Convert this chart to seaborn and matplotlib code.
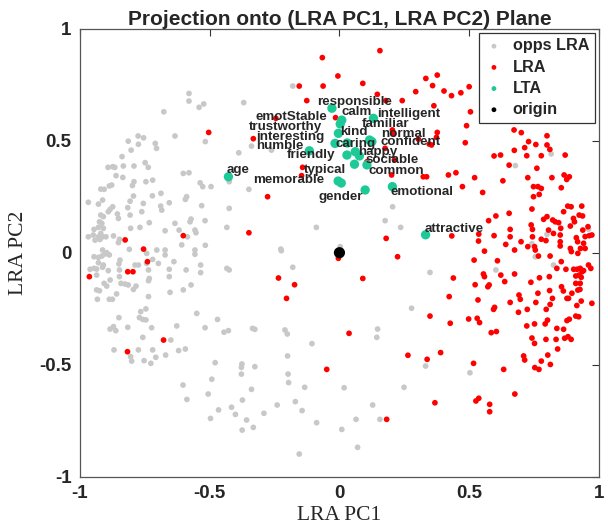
import numpy as np
import pandas as pd
import matplotlib
matplotlib.use("Agg")
import matplotlib.pyplot as plt
import seaborn as sns

# opposite-LRA points (grey)
opps_pts = [
    (-0.580, 0.711), (-0.580, 0.677), (-0.677, 0.629), (-0.541, 0.649), (-0.523, 0.664), (-0.369, 0.670),
    (-0.180, 0.744), (-0.634, 0.521), (-0.776, 0.521), (-0.755, 0.513), (-0.814, 0.498), (-0.775, 0.484),
    (-0.710, 0.488), (-0.705, 0.466), (-0.803, 0.458), (-0.517, 0.496), (-0.339, 0.476), (-0.262, 0.458),
    (-0.388, 0.446), (-0.838, 0.429), (-0.892, 0.381), (-0.874, 0.384), (-0.866, 0.381), (-0.833, 0.387),
    (-0.792, 0.387), (-0.749, 0.402), (-0.737, 0.381), (-0.861, 0.344), (-0.835, 0.336), (-0.602, 0.354),
    (-0.580, 0.357), (-0.537, 0.312), (-0.527, 0.295), (-0.495, 0.295), (-0.792, 0.317), (-0.798, 0.300),
    (-0.746, 0.317), (-0.720, 0.324), (-0.878, 0.302), (-0.887, 0.298), (-0.920, 0.284), (-0.907, 0.283),
    (-0.794, 0.253), (-0.721, 0.254), (-0.688, 0.265), (-0.807, 0.230), (-0.756, 0.220), (-0.656, 0.223),
    (-0.594, 0.238), (-0.589, 0.250), (-0.968, 0.225), (-0.929, 0.217), (-0.913, 0.235), (-0.874, 0.205),
    (-0.884, 0.193), (-0.816, 0.201), (-0.762, 0.183), (-0.689, 0.208), (-0.685, 0.190), (-0.531, 0.210),
    (-0.425, 0.198), (-0.920, 0.168), (-0.910, 0.161), (-0.891, 0.183), (-0.856, 0.173), (-0.852, 0.153),
    (-0.807, 0.168), (-0.733, 0.134), (-0.925, 0.138), (-0.916, 0.131), (-0.572, 0.150), (-0.576, 0.138),
    (-0.634, 0.131), (-0.518, 0.143), (-0.672, 0.098), (-0.618, 0.101), (-0.557, 0.101), (-0.553, 0.089),
    (-0.434, 0.113), (-0.805, 0.109), (-0.769, 0.113), (-0.946, 0.104), (-0.929, 0.113), (-0.910, 0.109),
    (-0.920, 0.086), (-0.968, 0.071), (-0.949, 0.079), (-0.929, 0.071), (-0.913, 0.071), (-0.942, 0.056),
    (-0.923, 0.059), (-0.900, 0.071), (-0.871, 0.075), (-0.848, 0.060), (-0.810, 0.015), (-0.852, 0.045),
    (-0.913, 0.012), (-0.897, 0.000), (-0.672, 0.012), (-0.704, 0.012), (-0.608, 0.035), (-0.557, 0.012),
    (-0.517, 0.033), (-0.743, -0.003), (-0.349, 0.283), (-0.425, 0.317), (-0.226, 0.016), (-0.089, 0.113),
    (0.003, 0.027), (0.205, 0.205), (0.176, 0.143), (0.236, 0.113), (-0.586, 0.071),
    (0.816, 0.441), (0.678, 0.389), (0.800, 0.082), (0.742, 0.040), (0.960, 0.105), (0.755, -0.018),
    (0.603, -0.077), (0.825, -0.055), (0.503, -0.536), (0.332, -0.506), (0.349, -0.088), (0.278, -0.248),
    (-0.946, -0.018), (-0.929, -0.021), (-0.916, -0.015), (-0.904, -0.006), (-0.887, -0.010), (-0.846, -0.033),
    (-0.850, -0.050), (-0.910, -0.055), (-0.913, -0.065), (-0.961, -0.074), (-0.946, -0.070), (-0.936, -0.073),
    (-0.929, -0.045), (-0.891, -0.080), (-0.848, -0.077), (-0.788, -0.055), (-0.775, -0.055), (-0.743, -0.048),
    (-0.720, -0.030), (-0.698, -0.048), (-0.672, -0.010), (-0.736, -0.077), (-0.656, -0.074), (-0.656, -0.107),
    (-0.638, -0.040), (-0.591, -0.077), (-0.557, -0.007), (-0.535, -0.055), (-0.535, -0.089), (-0.434, -0.070),
    (-0.425, -0.077), (-0.936, -0.100), (-0.907, -0.137), (-0.897, -0.149), (-0.884, -0.122), (-0.848, -0.107),
    (-0.842, -0.137), (-0.826, -0.140), (-0.814, -0.144), (-0.784, -0.149), (-0.794, -0.164), (-0.736, -0.125),
    (-0.733, -0.115), (-0.936, -0.166), (-0.925, -0.170), (-0.933, -0.208), (-0.887, -0.208), (-0.875, -0.208),
    (-0.859, -0.184), (-0.736, -0.196), (-0.653, -0.177), (-0.602, -0.166), (-0.572, -0.144), (-0.766, -0.263),
    (-0.746, -0.251), (-0.771, -0.290), (-0.758, -0.298), (-0.746, -0.300), (-0.850, -0.290), (-0.884, -0.341),
    (-0.871, -0.330), (-0.862, -0.348), (-0.816, -0.333), (-0.724, -0.335), (-0.627, -0.327), (-0.550, -0.271),
    (-0.470, -0.298), (-0.518, -0.335), (-0.445, -0.355), (-0.428, -0.348), (-0.758, -0.378), (-0.650, -0.390),
    (-0.869, -0.434), (-0.775, -0.434), (-0.720, -0.434), (-0.620, -0.437), (-0.594, -0.430), (-0.805, -0.464),
    (-0.801, -0.484), (-0.753, -0.482), (-0.708, -0.467), (-0.727, -0.494), (-0.670, -0.457), (-0.479, -0.491),
    (-0.224, 0.009), (-0.180, -0.065), (-0.210, -0.345), (-0.201, -0.363), (-0.200, -0.461), (-0.106, -0.406),
    (-0.376, -0.497), (-0.378, -0.512), (-0.326, -0.509), (-0.326, -0.342), (-0.335, -0.338), (-0.492, -0.565),
    (-0.603, -0.591), (-0.588, -0.655), (-0.506, -0.631), (-0.497, -0.740), (-0.466, -0.702), (-0.416, -0.690),
    (-0.401, -0.722), (-0.378, -0.542), (-0.374, -0.658), (-0.358, -0.747), (-0.375, -0.792), (-0.339, -0.610),
    (-0.332, -0.780), (-0.291, -0.717), (-0.240, -0.680), (-0.198, -0.542), (-0.196, -0.580), (-0.170, -0.665),
    (-0.144, -0.705), (-0.134, -0.601), (-0.155, -0.899), (-0.088, -0.759), (0.009, -0.789), (0.064, -0.744),
    (0.070, -0.869), (0.147, -0.341), (0.144, -0.378), (0.018, -0.603), (0.249, -0.601), (0.128, -0.680),
    (0.156, -0.744),
]

# LRA points (red)
lra_pts = [
    (-0.066, 0.871), (-0.006, 0.789), (-0.063, 0.744), (-0.155, 0.744), (-0.126, 0.679), (-0.015, 0.603),
    (-0.504, 0.537), (-0.332, 0.509), (-0.245, 0.600), (-0.142, 0.381), (-0.146, 0.344), (-0.277, 0.250),
    (-0.349, 0.089), (0.156, 0.902), (0.090, 0.756), (0.146, 0.707), (0.179, 0.679), (0.242, 0.679),
    (0.294, 0.719), (0.333, 0.778), (0.377, 0.793), (0.359, 0.746), (0.403, 0.722), (0.432, 0.701),
    (0.468, 0.714), (0.500, 0.741), (0.364, 0.656), (0.505, 0.629), (0.490, 0.567), (0.377, 0.537),
    (0.374, 0.515), (0.346, 0.485), (0.355, 0.481), (0.304, 0.507), (0.204, 0.548), (0.208, 0.530),
    (0.176, 0.466), (0.212, 0.414), (0.106, 0.406), (0.201, 0.347), (0.323, 0.339), (0.336, 0.339),
    (0.673, 0.548), (0.701, 0.536), (0.800, 0.522), (0.180, 0.064),
    (0.485, 0.491), (0.596, 0.432), (0.621, 0.436), (0.674, 0.457), (0.714, 0.469), (0.729, 0.496),
    (0.757, 0.483), (0.722, 0.433), (0.778, 0.433), (0.800, 0.481), (0.811, 0.461), (0.870, 0.436),
    (0.654, 0.391), (0.761, 0.377), (0.420, 0.347), (0.449, 0.357), (0.521, 0.335), (0.630, 0.321),
    (0.726, 0.335), (0.819, 0.335), (0.866, 0.347), (0.886, 0.339), (0.876, 0.327), (0.474, 0.295),
    (0.552, 0.269), (0.748, 0.295), (0.765, 0.295), (0.778, 0.287), (0.855, 0.290), (0.770, 0.260),
    (0.748, 0.250), (0.742, 0.195), (0.654, 0.176), (0.603, 0.164), (0.575, 0.143), (0.787, 0.149),
    (0.800, 0.161), (0.822, 0.146), (0.832, 0.138), (0.845, 0.134), (0.864, 0.183), (0.880, 0.208),
    (0.893, 0.205), (0.934, 0.208), (0.924, 0.168), (0.937, 0.164), (0.902, 0.153), (0.906, 0.138),
    (0.890, 0.119), (0.739, 0.124), (0.744, 0.104), (0.658, 0.104), (0.658, 0.071), (0.596, 0.076),
    (0.537, 0.083), (0.536, 0.052), (0.433, 0.075), (0.559, 0.007), (0.641, 0.037), (0.675, 0.012),
    (0.700, 0.049), (0.726, 0.027), (0.752, 0.027), (0.744, 0.071), (0.778, 0.060), (0.796, 0.054),
    (0.806, 0.101), (0.825, 0.086), (0.853, 0.109), (0.851, 0.079), (0.851, 0.049), (0.851, 0.030),
    (0.913, 0.067), (0.918, 0.049), (0.938, 0.101), (0.958, 0.116), (0.963, 0.076), (0.947, 0.072),
    (0.973, 0.079), (0.941, 0.042), (0.929, 0.019), (0.947, 0.019), (0.890, 0.019), (0.894, 0.005),
    (0.755, 0.012),
    (0.767, -0.015), (0.812, -0.015), (0.919, -0.003), (0.519, -0.033), (0.609, -0.036), (0.855, -0.040),
    (0.838, -0.070), (0.873, -0.074), (0.903, -0.074), (0.916, -0.074), (0.928, -0.070), (0.935, -0.085),
    (0.941, -0.080), (0.960, -0.055), (0.969, -0.070), (0.911, -0.104), (0.924, -0.100), (0.932, -0.110),
    (0.911, -0.137), (0.928, -0.137), (0.555, -0.095), (0.559, -0.107), (0.622, -0.100), (0.675, -0.095),
    (0.771, -0.112), (0.809, -0.107), (0.439, -0.113), (0.637, -0.129), (0.523, -0.143), (0.572, -0.152),
    (0.577, -0.144), (0.738, -0.132), (0.423, -0.196), (0.534, -0.211), (0.692, -0.189), (0.697, -0.208),
    (0.765, -0.181), (0.810, -0.169), (0.856, -0.152), (0.863, -0.171), (0.896, -0.181), (0.919, -0.167),
    (0.927, -0.164), (0.877, -0.204), (0.883, -0.204), (0.821, -0.204), (0.757, -0.222), (0.812, -0.231),
    (0.932, -0.216), (0.973, -0.226), (0.658, -0.222), (0.598, -0.244), (0.594, -0.253), (0.915, -0.236),
    (0.797, -0.253), (0.724, -0.253), (0.690, -0.266), (0.911, -0.283), (0.922, -0.286), (0.877, -0.303),
    (0.886, -0.297), (0.802, -0.301), (0.793, -0.318), (0.752, -0.318), (0.722, -0.327), (0.427, -0.315),
    (0.498, -0.296), (0.531, -0.293), (0.540, -0.312), (0.838, -0.338), (0.864, -0.342), (0.585, -0.357),
    (0.605, -0.352), (0.742, -0.381), (0.752, -0.405), (0.796, -0.387), (0.835, -0.387), (0.868, -0.382),
    (0.881, -0.375), (0.893, -0.387), (0.841, -0.430), (0.803, -0.457), (0.710, -0.461), (0.714, -0.479),
    (0.778, -0.484), (0.517, -0.494),
    (0.224, -0.018), (0.090, -0.115), (0.349, -0.283), (0.264, -0.458), (0.338, -0.476), (0.390, -0.446),
    (0.368, -0.670), (0.182, -0.744), (0.526, -0.662), (0.537, -0.650), (0.579, -0.677), (0.579, -0.710),
    (0.633, -0.521), (0.676, -0.631), (0.753, -0.513), (0.769, -0.521), (0.813, -0.499),
    (-0.826, 0.057), (-0.755, 0.016), (-0.602, 0.076), (-0.964, -0.107), (-0.816, -0.085), (-0.796, -0.085),
    (-0.740, -0.040), (-0.678, -0.390), (-0.817, -0.442), (-0.235, -0.113), (-0.173, -0.143), (-0.204, -0.204),
    (-0.004, -0.025), (0.037, -0.360), (-0.049, -0.521),
]

# LTA points (teal)
lta_pts = [
    (-0.029, 0.645), (0.009, 0.592), (0.003, 0.575), (0.131, 0.600), (-0.004, 0.533), (-0.017, 0.488),
    (0.029, 0.436), (0.061, 0.451), (0.077, 0.432), (0.058, 0.395), (0.106, 0.392), (0.116, 0.503),
    (0.125, 0.496), (-0.116, 0.455), (-0.005, 0.320), (0.007, 0.311), (0.099, 0.280), (0.204, 0.295),
    (-0.428, 0.339), (0.332, 0.080), (0.030, 0.490),
]

# LTA word labels and where they sit
lta_words = ["responsible", "emotStable", "calm", "intelligent", "trustworthy", "familiar", "kind",
             "interesting", "normal", "humble", "caring", "confident", "friendly", "happy", "sociable",
             "age", "typical", "common", "memorable", "gender", "emotional", "attractive"]
word_x = [-0.087, -0.322, 0.009, 0.144, -0.351, 0.086, 0.003, -0.321, 0.160, -0.321, -0.017, 0.160,
          -0.203, 0.073, 0.102, -0.434, -0.139, 0.112, -0.332, -0.081, 0.196, 0.328]
word_y = [0.674, 0.607, 0.627, 0.618, 0.560, 0.573, 0.537, 0.515, 0.529, 0.476, 0.485, 0.494,
          0.436, 0.451, 0.414, 0.369, 0.369, 0.366, 0.325, 0.250, 0.270, 0.106]

origin = (0.0, 0.0)

frames = []
for name, pts in [("opps LRA", opps_pts), ("LRA", lra_pts), ("LTA", lta_pts), ("origin", [origin])]:
    arr = np.array(pts)
    frames.append(pd.DataFrame({"pc1": arr[:, 0], "pc2": arr[:, 1], "group": name}))
df = pd.concat(frames, ignore_index=True)

colors = {"opps LRA": "#c8c8c8", "LRA": "#ff0000", "LTA": "#1dc996", "origin": "#000000"}
sizes = {"opps LRA": 17, "LRA": 17, "LTA": 45, "origin": 65}

sns.set_style("white")
plt.rcParams["font.family"] = ["Liberation Sans", "DejaVu Sans"]

fig = plt.figure(figsize=(6.08, 5.27), dpi=100)
ax = fig.add_axes([0.1316, 0.0955, 0.8534, 0.85])

for name in ["opps LRA", "LRA", "LTA", "origin"]:
    sub = df[df["group"] == name]
    sns.scatterplot(data=sub, x="pc1", y="pc2", color=colors[name], s=sizes[name],
                    edgecolor="none", linewidth=0, label=name, ax=ax, zorder=3)

for w, x, y in zip(lta_words, word_x, word_y):
    ax.text(x, y, w, fontsize=9.6, fontweight="bold", ha="left", va="center", zorder=4)

ax.set_xlim(-1, 1)
ax.set_ylim(-1, 1)
ax.set_xticks([-1, -0.5, 0, 0.5, 1])
ax.set_yticks([-1, -0.5, 0, 0.5, 1])
ax.set_xticklabels(["-1", "-0.5", "0", "0.5", "1"])
ax.set_yticklabels(["-1", "-0.5", "0", "0.5", "1"])
ax.tick_params(direction="in", length=5, width=0.8, top=True, right=True,
               labelsize=13.5, color="#333333", pad=6)
for lab in ax.get_xticklabels() + ax.get_yticklabels():
    lab.set_fontweight("bold")
for sp in ax.spines.values():
    sp.set_color("#555555")
    sp.set_linewidth(0.9)

ax.set_xlabel("LRA PC1", family=["Liberation Serif", "DejaVu Serif"], fontsize=15.5, labelpad=3)
ax.set_ylabel("LRA PC2", family=["Liberation Serif", "DejaVu Serif"], fontsize=15.5, labelpad=8)
ax.set_title("Projection onto (LRA PC1, LRA PC2) Plane", fontsize=15, fontweight="bold", pad=3)

leg = ax.legend(loc="upper right", frameon=True, fancybox=False, edgecolor="black",
                prop={"weight": "bold", "size": 11.7}, handletextpad=0.6, borderpad=0.35,
                labelspacing=0.38, handlelength=1.1, borderaxespad=0.25)
leg.get_frame().set_linewidth(0.9)
for h in leg.legend_handles:
    h.set_sizes([12])

fig.savefig("out.png", dpi=100)
